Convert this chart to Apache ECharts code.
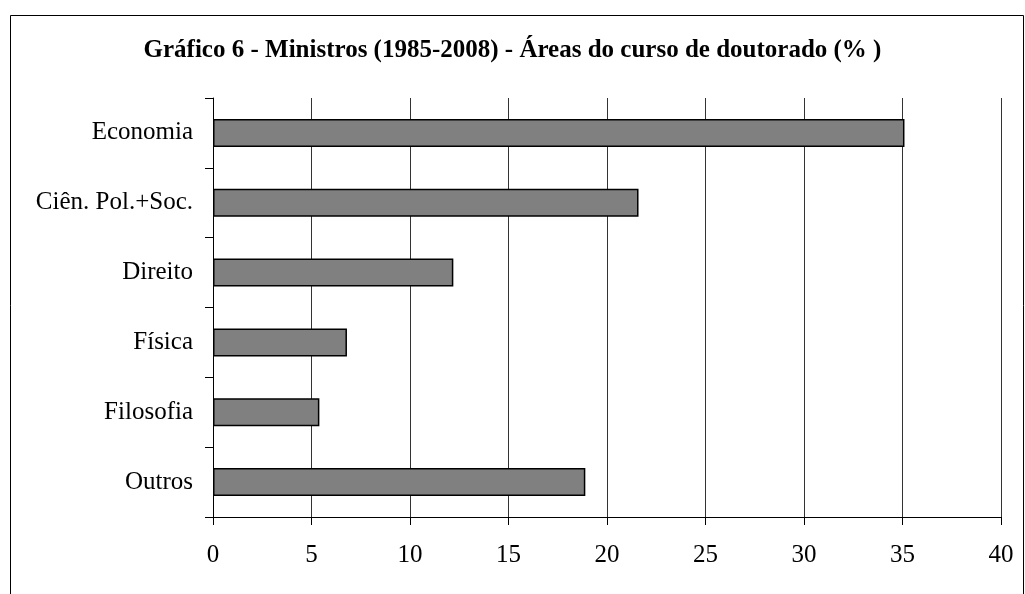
<!DOCTYPE html>
<html>
<head>
<meta charset="utf-8">
<script src="https://cdn.jsdelivr.net/npm/echarts@6/dist/echarts.min.js"></script>
<style>
  html, body { margin: 0; padding: 0; background: #fff; }
  #chart { width: 1025px; height: 594px; }
</style>
</head>
<body>
<div id="chart"></div>
<script>
// dados
const categorias = ['Economia', 'Ciên. Pol.+Soc.', 'Direito', 'Física', 'Filosofia', 'Outros']
const valores = [35.1, 21.6, 12.2, 6.8, 5.4, 18.9]
const titulo = 'Gráfico 6 - Ministros (1985-2008) - Áreas do curso de doutorado (% )'

const serif = '"Liberation Serif", "Times New Roman", serif'

const chart = echarts.init(document.getElementById('chart'))

chart.setOption({
  backgroundColor: '#fff',
  animation: false,
  title: {
    text: titulo,
    left: 'center',
    top: 33,
    textStyle: { fontFamily: serif, fontSize: 25, fontWeight: 'bold', color: '#000' }
  },
  // moldura do gráfico (só esquerda/topo/direita visíveis)
  graphic: [{
    type: 'rect',
    shape: { x: 10.5, y: 15.5, width: 1013, height: 620 },
    style: { fill: 'none', stroke: '#000', lineWidth: 1 },
    silent: true
  }],
  grid: { left: 213, right: 24, top: 98, bottom: 77 },
  xAxis: {
    type: 'value',
    min: 0,
    max: 40,
    interval: 5,
    axisLine: { show: true, lineStyle: { color: '#000', width: 1 } },
    axisTick: { show: true, length: 8, lineStyle: { color: '#000' } },
    axisLabel: { fontFamily: serif, fontSize: 25, color: '#000', margin: 26 },
    splitLine: { show: true, lineStyle: { color: '#333', width: 1 } }
  },
  yAxis: {
    type: 'category',
    data: categorias,
    inverse: true,
    axisLine: { show: true, lineStyle: { color: '#000', width: 1 } },
    axisTick: { show: true, length: 8, alignWithLabel: false, lineStyle: { color: '#000' } },
    axisLabel: { fontFamily: serif, fontSize: 25, color: '#000', margin: 20 },
    splitLine: { show: false }
  },
  series: [{
    type: 'bar',
    data: valores,
    barWidth: '40%',
    itemStyle: { color: '#808080', borderColor: '#000', borderWidth: 1.5 }
  }]
})
</script>
</body>
</html>
